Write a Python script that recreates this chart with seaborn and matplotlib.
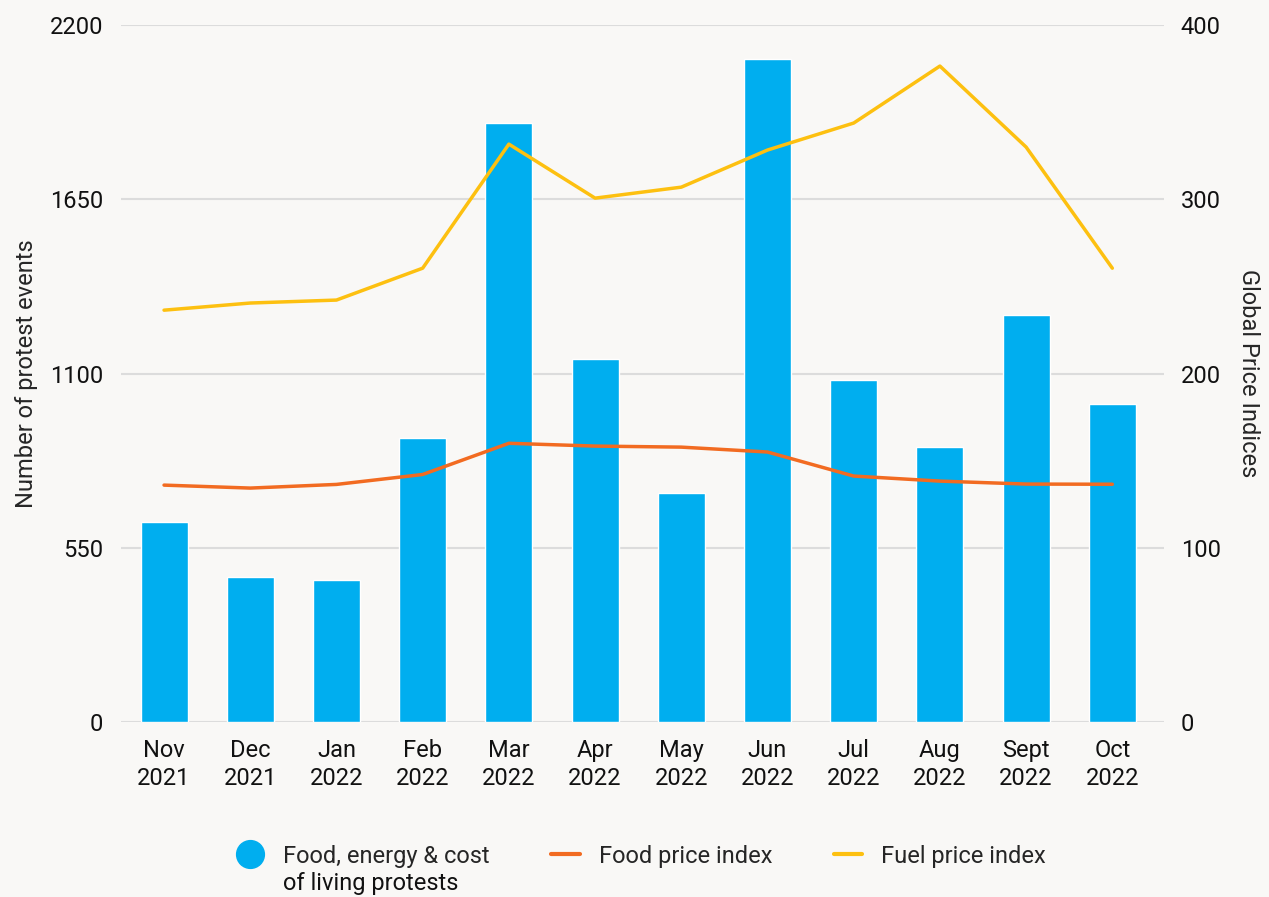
import pandas as pd
import matplotlib.pyplot as plt
from matplotlib.lines import Line2D
import seaborn as sns

# Values
months = ["Nov\n2021", "Dec\n2021", "Jan\n2022", "Feb\n2022", "Mar\n2022", "Apr\n2022",
          "May\n2022", "Jun\n2022", "Jul\n2022", "Aug\n2022", "Sept\n2022", "Oct\n2022"]
protests = [631, 458, 448, 896, 1891, 1146, 723, 2093, 1080, 868, 1285, 1004]
food_index = [136.0, 134.3, 136.4, 142.1, 160.0, 158.4, 157.8, 155.0, 141.2, 138.3, 136.6, 136.5]
fuel_index = [236.4, 240.5, 242.2, 260.5, 331.7, 300.7, 307.0, 328.3, 343.8, 376.5, 330.0, 260.5]

df = pd.DataFrame({"month": months, "protests": protests,
                   "food": food_index, "fuel": fuel_index})
df["pos"] = range(len(df))

bg = "#f9f8f6"
blue = "#00aeef"
orange = "#f26b21"
yellow = "#fdc010"
fs = 17

sns.set_style("white")
plt.rcParams["font.family"] = ["Roboto", "DejaVu Sans"]
plt.rcParams["font.size"] = fs

fig = plt.figure(figsize=(12.69, 8.97), dpi=100, facecolor=bg)
ax = fig.add_axes([0.0953, 0.195, 0.822, 0.777], facecolor=bg)

sns.barplot(data=df, x="month", y="protests", color=blue, width=0.545,
            saturation=1, ax=ax, zorder=2)
ax.set_ylim(0, 2200)
ax.set_yticks([0, 550, 1100, 1650, 2200])
ax.set_xlim(-0.5, 11.6)
ax.grid(axis="y", color="#dcdcdc", linewidth=1.5, zorder=0)
ax.set_axisbelow(True)
ax.set_xlabel("")
ax.set_ylabel("Number of protest events", fontsize=fs, labelpad=8)
ax.tick_params(axis="both", length=0, labelsize=fs, colors="#111111")
ax.tick_params(axis="y", pad=13)
ax.tick_params(axis="x", pad=12)
for lbl in ax.get_xticklabels():
    lbl.set_linespacing(1.3)
for s in ax.spines.values():
    s.set_visible(False)

ax2 = ax.twinx()
sns.lineplot(x=df["pos"], y=df["food"], color=orange, linewidth=2.5, ax=ax2)
sns.lineplot(x=df["pos"], y=df["fuel"], color=yellow, linewidth=2.5, ax=ax2)
ax2.set_ylim(0, 400)
ax2.set_yticks([0, 100, 200, 300, 400])
ax2.set_xlim(-0.5, 11.6)
ax2.set_xlabel("")
ax2.set_ylabel("Global Price Indices", fontsize=fs, rotation=270, labelpad=28)
ax2.tick_params(axis="y", length=0, labelsize=fs, pad=12, colors="#111111")
for s in ax2.spines.values():
    s.set_visible(False)

handles = [
    Line2D([], [], marker="o", linestyle="none", markersize=20, color=blue),
    Line2D([], [], color=orange, linewidth=3),
    Line2D([], [], color=yellow, linewidth=3),
]
labels = ["Food, energy & cost", "Food price index", "Fuel price index"]
leg = fig.legend(handles, labels, loc="center", bbox_to_anchor=(0.505, 0.0457), ncol=3,
                 frameon=False, fontsize=fs, handlelength=1.2, columnspacing=2.6,
                 handletextpad=0.8)

# second line of the first legend label, hanging below like the original
fig.canvas.draw()
bb = leg.get_texts()[0].get_window_extent()
W, H = fig.canvas.get_width_height()
fig.text(bb.x0 / W, ((bb.y0 + bb.y1) / 2 - 27) / H, "of living protests",
         fontsize=fs, ha="left", va="center", color="#111111")

plt.savefig("out.png", dpi=100, facecolor=bg)
